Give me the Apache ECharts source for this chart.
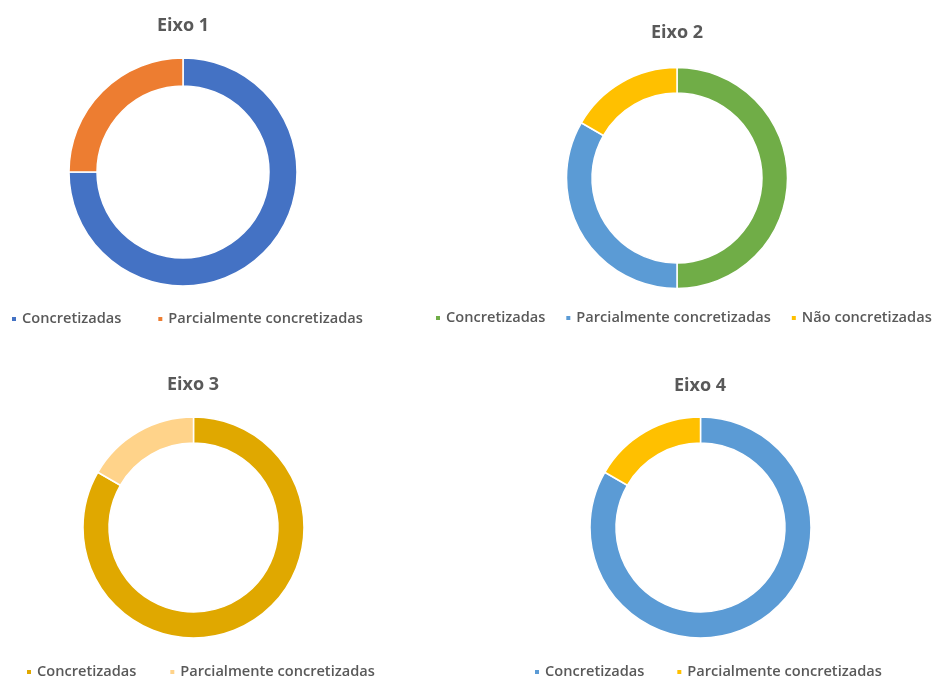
<!DOCTYPE html>
<html>
<head>
<meta charset="utf-8">
<script src="https://cdn.jsdelivr.net/npm/echarts@6/dist/echarts.min.js"></script>
<style>html,body{margin:0;padding:0;background:#fff}#c{width:936px;height:678px}</style>
</head>
<body>
<div id="c"></div>
<script>
const titles = ['Eixo 1', 'Eixo 2', 'Eixo 3', 'Eixo 4'];
const cats1 = ['Concretizadas', 'Parcialmente concretizadas'];
const vals1 = [3, 1];
const cats2 = ['Concretizadas', 'Parcialmente concretizadas', 'Não concretizadas'];
const vals2 = [3, 2, 1];
const cats3 = ['Concretizadas', 'Parcialmente concretizadas'];
const vals3 = [5, 1];
const cats4 = ['Concretizadas', 'Parcialmente concretizadas'];
const vals4 = [5, 1];

const colors = [
  ['#4472C4', '#ED7D31'],
  ['#70AD47', '#5B9BD5', '#FFC000'],
  ['#E0A800', '#FFD38A'],
  ['#5B9BD5', '#FFC000']
];
const cats = [cats1, cats2, cats3, cats4];
const vals = [vals1, vals2, vals3, vals4];

const layout = [
  {cx: 183, cy: 172, r: [86, 114], tx: 183, ty: 26, lx: 10, ly: 319, gap: 35},
  {cx: 677, cy: 178, r: [85, 110.5], tx: 677, ty: 33, lx: 434, ly: 318, gap: 19},
  {cx: 193.5, cy: 527.5, r: [84.5, 110.5], tx: 193, ty: 385, lx: 25, ly: 672, gap: 32},
  {cx: 700.5, cy: 527.5, r: [84.5, 110.5], tx: 700, ty: 386, lx: 533, ly: 672, gap: 31}
];

const textColor = '#595959';
const fontFamily = '"Open Sans", "Noto Sans", sans-serif';

const option = {
  animation: false,
  backgroundColor: '#fff',
  title: layout.map((L, i) => ({
    text: titles[i],
    left: L.tx,
    top: L.ty - 11,
    textAlign: 'center',
    padding: 0,
    textStyle: {color: textColor, fontSize: 18, fontWeight: 'bold', fontFamily: fontFamily, lineHeight: 22}
  })),
  legend: layout.map((L, i) => ({
    left: L.lx,
    top: L.ly - 8,
    width: 560,
    padding: 0,
    orient: 'horizontal',
    icon: 'rect',
    itemWidth: 6,
    itemHeight: 6,
    itemGap: L.gap,
    selectedMode: false,
    textStyle: {color: textColor, fontSize: 14.6, fontWeight: 600, fontFamily: fontFamily, lineHeight: 16, padding: [0, 0, 0, 0]},
    data: cats[i].map((n, j) => ({name: n, itemStyle: {color: colors[i][j]}}))
  })),
  series: layout.map((L, i) => ({
    type: 'pie',
    center: [L.cx, L.cy],
    radius: L.r,
    startAngle: 90,
    clockwise: true,
    label: {show: false},
    labelLine: {show: false},
    emphasis: {disabled: true},
    silent: true,
    itemStyle: {borderColor: '#fff', borderWidth: 1.5},
    data: cats[i].map((n, j) => ({name: n, value: vals[i][j], itemStyle: {color: colors[i][j]}}))
  }))
};

const chart = echarts.init(document.getElementById('c'));
chart.setOption(option);
</script>
</body>
</html>
